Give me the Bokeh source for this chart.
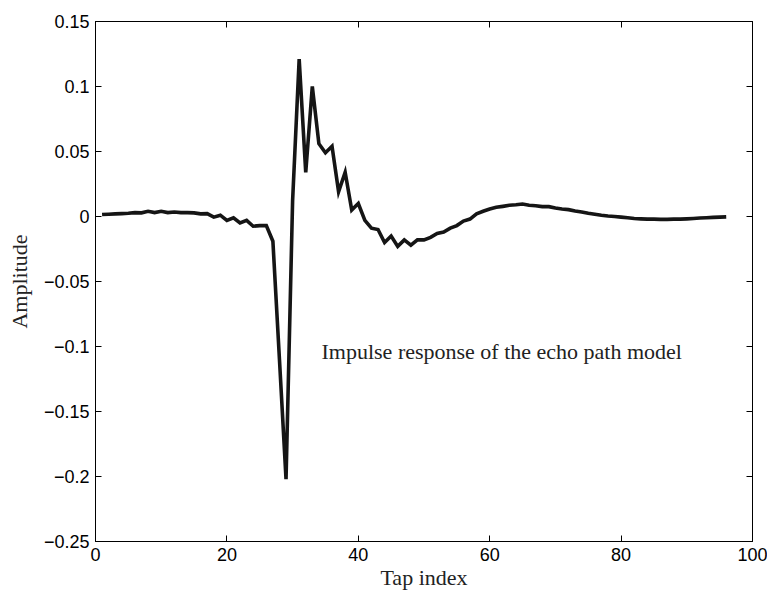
from bokeh.plotting import figure
from bokeh.models import FixedTicker, LinearAxis, Range1d, Label, CustomLabelingPolicy
from bokeh.embed import file_html
from bokeh.resources import INLINE

# ---- data ----
taps = list(range(1, 97))
amplitude = [
    0.0015, 0.0017, 0.0020, 0.0022, 0.0025, 0.0030, 0.0028, 0.0040, 0.0030, 0.0040,
    0.0030, 0.0035, 0.0030, 0.0030, 0.0028, 0.0020, 0.0022, -0.0005, 0.0010, -0.0030,
    -0.0010, -0.0050, -0.0030, -0.0075, -0.0070, -0.0070, -0.0190, -0.1100, -0.2020, 0.0120,
    0.1210, 0.0340, 0.1000, 0.0560, 0.0490, 0.0540, 0.0190, 0.0340, 0.0050, 0.0100,
    -0.0030, -0.0090, -0.0100, -0.0200, -0.0150, -0.0230, -0.0180, -0.0220, -0.0180, -0.0180,
    -0.0160, -0.0130, -0.0120, -0.0090, -0.0070, -0.0035, -0.0020, 0.0020, 0.0040, 0.0058,
    0.0071, 0.0078, 0.0086, 0.0090, 0.0096, 0.0086, 0.0083, 0.0076, 0.0076, 0.0066,
    0.0058, 0.0053, 0.0043, 0.0035, 0.0025, 0.0018, 0.0010, 0.0004, 0.0000, -0.0005,
    -0.0010, -0.0015, -0.0018, -0.0020, -0.0020, -0.0022, -0.0022, -0.0020, -0.0020, -0.0018,
    -0.0015, -0.0012, -0.0010, -0.0007, -0.0005, -0.0003,
]
x_ticks = [0, 20, 40, 60, 80, 100]
y_ticks = [-0.25, -0.2, -0.15, -0.1, -0.05, 0, 0.05, 0.1, 0.15]
y_tick_labels = ["\u22120.25", "\u22120.2", "\u22120.15", "\u22120.1", "\u22120.05", "0", "0.05", "0.1", "0.15"]
x_label = "Tap index"
y_label = "Amplitude"
annotation = "Impulse response of the echo path model"
annotation_pos = (34.4, -0.104)

SANS = "Liberation Sans"
SERIF = "Liberation Serif"

p = figure(width=767, height=592, output_backend="svg", toolbar_location=None,
           x_range=Range1d(0, 100), y_range=Range1d(-0.25, 0.15),
           min_border_left=95, min_border_right=15, min_border_top=21, min_border_bottom=51,
           x_axis_label=x_label, y_axis_label=y_label)
p.background_fill_color = "white"
p.border_fill_color = "white"
p.outline_line_color = "black"
p.outline_line_width = 1
p.grid.visible = False

p.line(taps, amplitude, line_color="#151515", line_width=3.6, line_join="miter")

p.xaxis.ticker = FixedTicker(ticks=x_ticks)
p.yaxis.ticker = FixedTicker(ticks=y_ticks)
p.yaxis.major_label_overrides = {t: l for t, l in zip(y_ticks, y_tick_labels)}

for ax in p.xaxis + p.yaxis:
    ax.major_tick_in = 6
    ax.major_tick_out = 0
    ax.minor_tick_line_color = None
    ax.axis_line_color = "black"
    ax.major_tick_line_color = "black"
    ax.major_label_text_font = SANS
    ax.major_label_text_font_size = "18px"
    ax.major_label_text_color = "black"
    ax.axis_label_text_font = SERIF
    ax.axis_label_text_font_style = "normal"
    ax.axis_label_text_font_size = "22px"
    ax.axis_label_text_color = "#222222"

p.xaxis.major_label_standoff = 6
p.xaxis.axis_label_standoff = 1
p.yaxis.major_label_standoff = 6
p.yaxis.axis_label_standoff = 9

hide_all = CustomLabelingPolicy(code="for (const i of indices) indices.unset(i)")
for loc in ("right", "above"):
    ax = LinearAxis(ticker=FixedTicker(ticks=y_ticks if loc == "right" else x_ticks))
    ax.major_tick_in = 6
    ax.major_tick_out = 0
    ax.minor_tick_line_color = None
    ax.major_label_policy = hide_all
    ax.major_label_text_font_size = "1px"
    ax.major_label_standoff = 0
    ax.axis_line_color = "black"
    ax.major_tick_line_color = "black"
    p.add_layout(ax, loc)

p.add_layout(Label(x=annotation_pos[0], y=annotation_pos[1], text=annotation,
                   text_font=SERIF, text_font_size="22px", text_color="#222222",
                   text_baseline="middle", text_align="left"))

open("out.html", "w").write(file_html(p, INLINE))
